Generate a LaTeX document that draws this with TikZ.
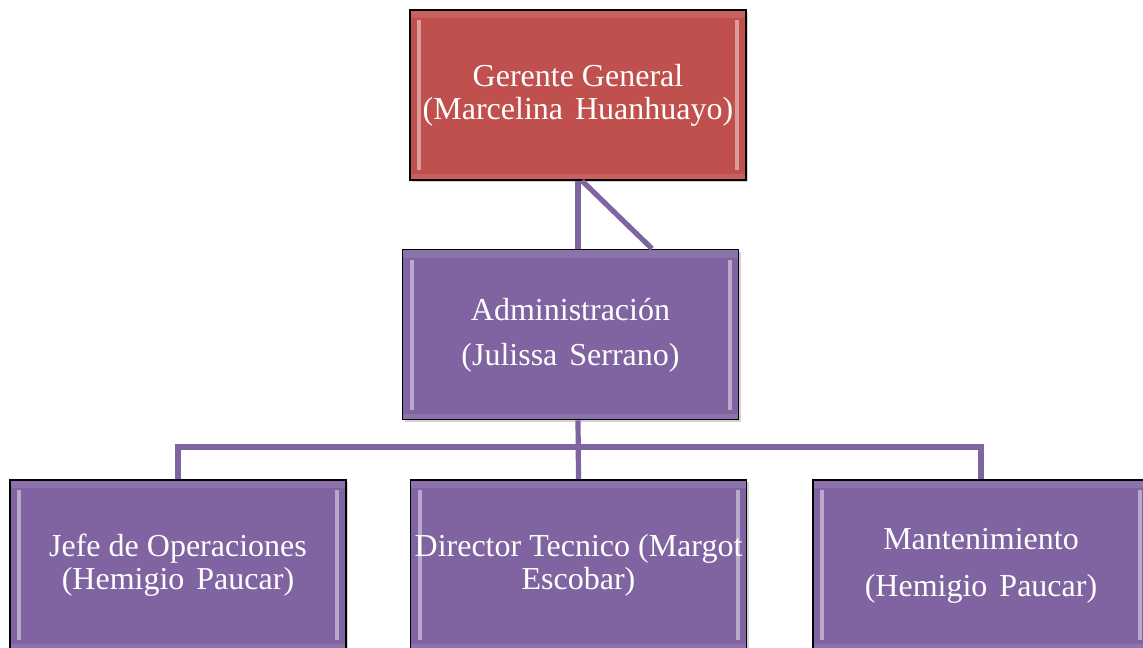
\documentclass[tikz,border=0pt]{standalone}
\usepackage{fontspec}
\setmainfont{Liberation Serif}
\usepackage{tikz}
\usetikzlibrary{positioning, calc, shadows}
\definecolor{gerred}{HTML}{C0504D}
\definecolor{admpurple}{HTML}{8064A2}
\newcommand{\wgap}{\hspace{6pt}}
\tikzset{
  box/.style   = {draw=black, line width=0.8pt, rectangle,
                  minimum width=168pt, minimum height=85pt, inner sep=0pt,
                  fill=admpurple, text=white, align=center,
                  font=\fontsize{16}{16.5}\selectfont,
                  drop shadow={shadow xshift=1.2pt, shadow yshift=-1.2pt, opacity=.35},
                  path picture={
                    \fill[white, opacity=.10] (path picture bounding box.north west)
                      rectangle ([yshift=-4pt]path picture bounding box.north east);
                    \fill[white, opacity=.10] (path picture bounding box.south west)
                      rectangle ([yshift=3pt]path picture bounding box.south east);
                    \fill[white, opacity=.45] ([xshift=3.5pt,yshift=-5pt]path picture bounding box.north west)
                      rectangle ([xshift=5.5pt,yshift=5pt]path picture bounding box.south west);
                    \fill[white, opacity=.45] ([xshift=-3.5pt,yshift=-5pt]path picture bounding box.north east)
                      rectangle ([xshift=-5.5pt,yshift=5pt]path picture bounding box.south east);
                  }},
  topbox/.style = {box, fill=gerred},
  link/.style  = {draw=admpurple, line width=2.6pt},
}
\begin{document}
\begin{tikzpicture}[x=0.5pt, y=-0.5pt]
  \useasboundingbox (0,0) rectangle (1143,647);
  \clip (0,0) rectangle (1143,647);

  \node[topbox] (ger)  at (578,95)      {\strut Gerente General\\(Marcelina\wgap Huanhuayo)};
  \node[box]    (adm)  at (570.5,334.5) {\strut Administración\\[6pt](Julissa\wgap Serrano)};
  \node[box]    (jefe) at (178,565)     {\strut Jefe de Operaciones\\(Hemigio\wgap Paucar)};
  \node[box]    (dir)  at (578.5,565)   {\strut Director Tecnico (Margot\\Escobar)};
  \node[box]    (mant) at (981,565)     {\strut Mantenimiento\\[7pt](Hemigio\wgap Paucar)};

  \coordinate (bus) at (578.5,447);

  % links between the levels
  \draw[link] (ger.south) -- (ger.south |- adm.north);
  \draw[link] ([xshift=2pt]ger.south) -- ([xshift=40.75pt]adm.north);
  \draw[link] (ger.south |- adm.south) -- (dir.north);
  \draw[link] (jefe.north) |- (bus) -| (mant.north);
\end{tikzpicture}
\end{document}
